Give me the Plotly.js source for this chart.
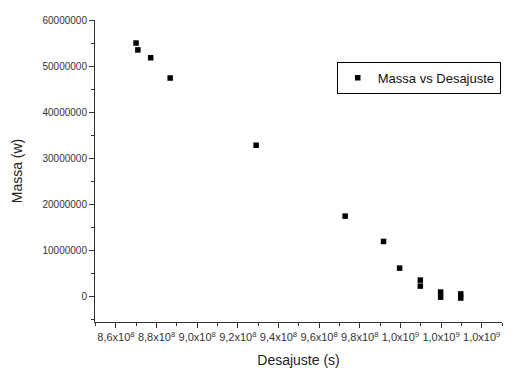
<!DOCTYPE html>
<html>
<head>
<meta charset="utf-8">
<script src="https://cdn.plot.ly/plotly-3.0.1.min.js"></script>
<style>html,body{margin:0;padding:0;background:#fff;}#chart{width:516px;height:368px;}</style>
</head>
<body>
<div id="chart"></div>
<script>
// Desajuste (s)
const desajuste = [869.9e6, 870.8e6, 877.1e6, 886.7e6, 929.0e6, 972.8e6, 991.7e6, 999.6e6, 1009.8e6, 1009.8e6, 1019.8e6, 1019.8e6, 1029.7e6, 1029.7e6];
// Massa (w)
const massa = [55.0e6, 53.5e6, 51.8e6, 47.4e6, 32.8e6, 17.4e6, 11.9e6, 6.1e6, 3.5e6, 2.2e6, 0.9e6, -0.2e6, 0.5e6, -0.4e6];

const xTickVals = [860e6, 880e6, 900e6, 920e6, 940e6, 960e6, 980e6, 1000e6, 1020e6, 1040e6];
const xTickText = ["8,6x10<sup>8</sup>", "8,8x10<sup>8</sup>", "9,0x10<sup>8</sup>", "9,2x10<sup>8</sup>", "9,4x10<sup>8</sup>", "9,6x10<sup>8</sup>", "9,8x10<sup>8</sup>", "1,0x10<sup>9</sup>", "1,0x10<sup>9</sup>", "1,0x10<sup>9</sup>"];
const yTickVals = [0, 10e6, 20e6, 30e6, 40e6, 50e6, 60e6];
const yTickText = ["0", "10000000", "20000000", "30000000", "40000000", "50000000", "60000000"];

const trace = {
  x: desajuste, y: massa, type: 'scatter', mode: 'markers',
  name: 'Massa vs Desajuste',
  marker: {symbol: 'square', size: 5.5, color: '#000'}
};

const layout = {
  width: 516, height: 368,
  margin: {l: 95, r: 14, t: 20, b: 46},
  paper_bgcolor: '#fff', plot_bgcolor: '#fff',
  font: {family: 'Liberation Sans, Arial, sans-serif', color: '#222'},
  showlegend: true,
  legend: {
    x: 0.594, y: 0.862, xanchor: 'left', yanchor: 'top',
    bordercolor: '#000', borderwidth: 1, bgcolor: '#fff',
    font: {size: 13, color: '#111'},
    itemwidth: 30
  },
  xaxis: {
    automargin: false,
    range: [849.7e6, 1050e6],
    tickmode: 'array', tickvals: xTickVals, ticktext: xTickText,
    ticks: 'outside', ticklen: 5, tickcolor: '#333', tickwidth: 1,
    minor: {dtick: 10e6, tick0: 850e6, ticks: 'outside', ticklen: 3, tickcolor: '#333'},
    showgrid: false, zeroline: false,
    showline: true, linecolor: '#333', linewidth: 1,
    tickfont: {size: 11, color: '#333'},
    title: {text: 'Desajuste (s)', font: {size: 14, color: '#222'}, standoff: 12}
  },
  yaxis: {
    automargin: false,
    range: [-5.6e6, 60e6],
    tickmode: 'array', tickvals: yTickVals, ticktext: yTickText,
    ticks: 'outside', ticklen: 5, tickcolor: '#333', tickwidth: 1,
    minor: {dtick: 5e6, tick0: 0, ticks: 'outside', ticklen: 3, tickcolor: '#333'},
    showgrid: false, zeroline: false,
    showline: true, linecolor: '#333', linewidth: 1,
    tickfont: {size: 10, color: '#333'},
    title: {text: 'Massa (w)', font: {size: 14, color: '#222'}, standoff: 16}
  }
};

Plotly.newPlot('chart', [trace], layout, {displayModeBar: false, staticPlot: true});
</script>
</body>
</html>
